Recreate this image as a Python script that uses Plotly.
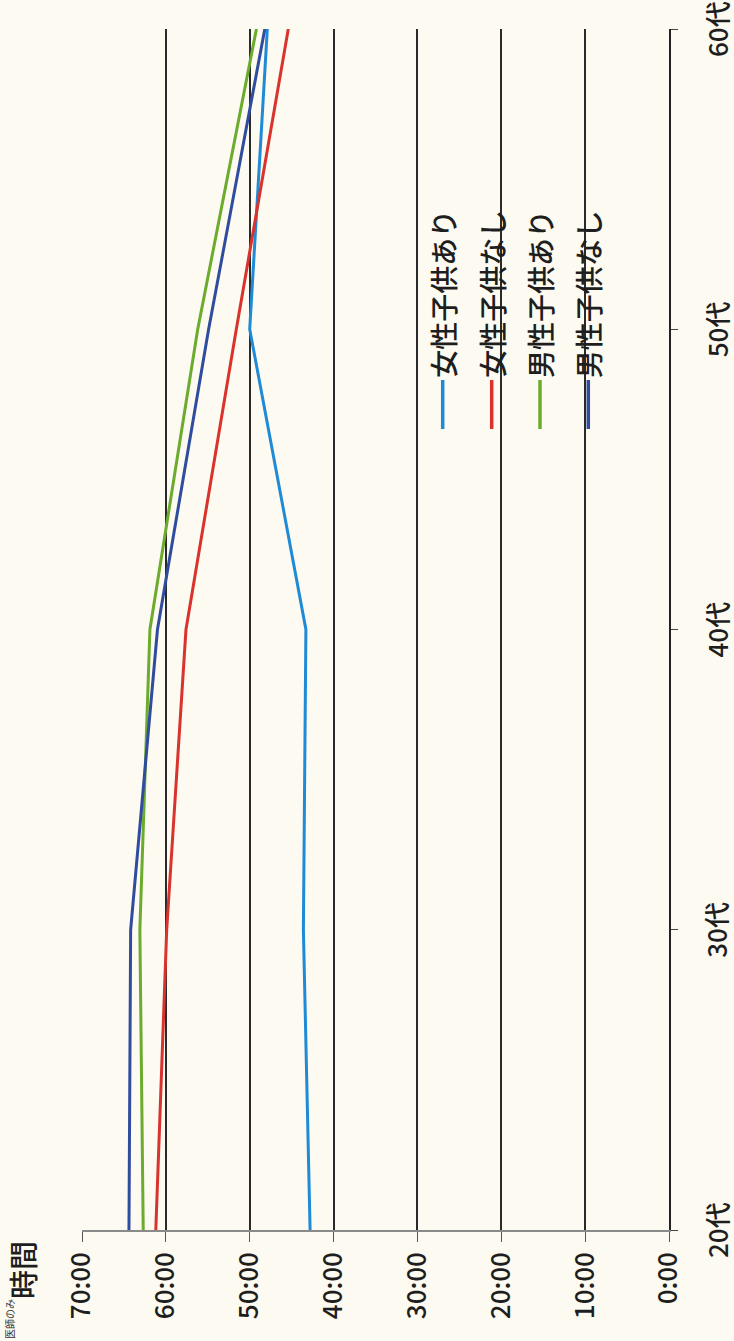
import plotly.graph_objects as go

# ---- data ----
age_labels = ["20代", "30代", "40代", "50代", "60代"]
series_names = ["女性子供あり", "女性子供なし", "男性子供あり", "男性子供なし"]
f_with_kids = [42.8, 43.6, 43.3, 50.0, 47.9]
f_no_kids = [61.2, 59.9, 57.6, 51.6, 45.4]
m_with_kids = [62.7, 63.1, 61.9, 56.2, 49.2]
m_no_kids = [64.4, 64.2, 61.0, 54.9, 48.2]
hour_ticks = [0, 10, 20, 30, 40, 50, 60, 70]
hour_tick_labels = ["0:00", "10:00", "20:00", "30:00", "40:00", "50:00", "60:00", "70:00"]

colors = ["#1f8ad6", "#d8332c", "#6cab2e", "#2f4c9e"]
values = [f_with_kids, f_no_kids, m_with_kids, m_no_kids]

FONT = "Noto Sans CJK JP"
W, H = 734, 1341
L, R, T, B = 82, 669, 29, 1230


def px2x(px):
    return (px - L) / (R - L)


def px2y(py):
    return (B - py) / (B - T)


fig = go.Figure()
pos = list(range(len(age_labels)))
for name, vals, col in zip(series_names, values, colors):
    fig.add_trace(go.Scatter(
        x=vals, y=pos, mode="lines", name=name,
        line=dict(color=col, width=3),
        showlegend=False, cliponaxis=False,
    ))

# category labels (rotated, centred on their ticks)
for p, lab in zip(pos, age_labels):
    fig.add_annotation(xref="paper", yref="y", x=px2x(716), y=p,
                       xanchor="center", yanchor="middle", text=lab,
                       textangle=-90, showarrow=False,
                       font=dict(family=FONT, size=26, color="#1e1e1e", weight=500))

# rotated legend
leg_x = [442.7, 491.7, 540, 588.3]
for name, col, lx in zip(series_names, colors, leg_x):
    fig.add_shape(type="line", xref="paper", yref="paper",
                  x0=px2x(lx), x1=px2x(lx), y0=px2y(380), y1=px2y(429),
                  line=dict(color=col, width=3.5))
    fig.add_annotation(xref="paper", yref="paper", x=px2x(lx), y=px2y(380),
                       xanchor="center", yanchor="bottom", text=name,
                       textangle=-90, showarrow=False,
                       font=dict(family=FONT, size=28, color="#1e1e1e", weight=500))

# axis title
fig.add_annotation(xref="paper", yref="paper", x=px2x(22), y=px2y(1270),
                   xanchor="center", yanchor="middle", text="時間",
                   textangle=-90, showarrow=False,
                   font=dict(family=FONT, size=29, color="#1e1e1e", weight=500))
# faint note in corner
fig.add_annotation(xref="paper", yref="paper", x=px2x(9), y=px2y(1297),
                   xanchor="center", yanchor="top", text="医師のみ",
                   textangle=-90, showarrow=False,
                   font=dict(family=FONT, size=10, color="#333"))

fig.update_layout(
    width=W, height=H,
    margin=dict(l=L, r=W - R, t=T, b=H - B, autoexpand=False),
    paper_bgcolor="#fcfaf1", plot_bgcolor="#fcfaf1",
    font=dict(family=FONT, color="#1e1e1e"),
    showlegend=False,
)
fig.update_xaxes(
    range=[70, 0], tickvals=hour_ticks, ticktext=hour_tick_labels,
    tickangle=-90, tickfont=dict(size=26, family=FONT, color="#1e1e1e", weight=500),
    showgrid=True, gridcolor="#2a2a2a", gridwidth=1.5,
    showline=True, linecolor="#8a8a8a", linewidth=1.5,
    ticks="outside", ticklen=10, tickcolor="#555", tickwidth=1.2,
    zeroline=False, automargin=False,
)
fig.update_yaxes(
    range=[0, len(age_labels) - 1], tickvals=pos, showticklabels=False,
    side="right",
    showgrid=False, zeroline=False,
    showline=True, linecolor="#222", linewidth=2,
    ticks="outside", ticklen=7, tickcolor="#444",
    automargin=False,
)

fig.write_html("out.html")
